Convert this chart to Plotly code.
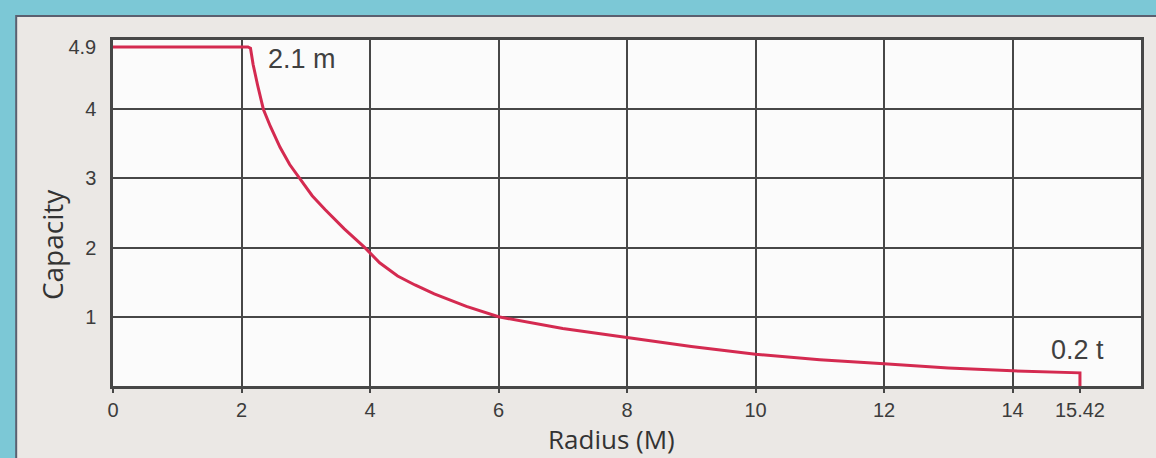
import plotly.graph_objects as go

# ---- data ----
radius = [0, 2.1, 2.14, 2.18, 2.25, 2.34, 2.45, 2.6, 2.75, 2.91, 3.1, 3.3, 3.6, 3.92,
          4.15, 4.43, 4.7, 5.0, 5.5, 6.0, 6.5, 7.0, 8.0, 9.0, 10.0, 11.0, 12.0, 13.0, 14.0,
          15.05, 15.05]
capacity = [4.9, 4.9, 4.88, 4.65, 4.35, 4.0, 3.75, 3.45, 3.2, 3.0, 2.75, 2.55, 2.27, 2.0,
            1.78, 1.59, 1.46, 1.33, 1.15, 1.0, 0.91, 0.83, 0.70, 0.57, 0.46, 0.38, 0.32,
            0.26, 0.22, 0.19, 0.0]

x_tickvals = [0, 2, 4, 6, 8, 10, 12, 14, 15.05]
x_ticktext = ["0", "2", "4", "6", "8", "10", "12", "14", "15.42"]
x_gridvals = [2, 4, 6, 8, 10, 12, 14]
y_tickvals = [1, 2, 3, 4, 4.9]
y_ticktext = ["1", "2", "3", "4", "4.9"]
y_gridvals = [1, 2, 3, 4]

x_title = "Radius (M)"
y_title = "Capacity"
label_start = "2.1 m"
label_end = "0.2 t"

# ---- figure ----
W, H = 1156, 458
ML, MR, MT, MB = 113, 13, 40, 72
pw, ph = W - ML - MR, H - MT - MB

def px_x(p):
    return (p - ML) / pw

def px_y(p):
    return (H - MB - p) / ph

teal = "#7cc8d6"
panel = "#ebe8e5"
gridc = "#474747"
tickfont = dict(family="Liberation Sans, Arial", size=20, color="#3c3c3c")
labelfont = dict(family="Liberation Sans, Arial", size=27, color="#404040")
titlefont = dict(family="Open Sans, Noto Sans, Arial", size=26, color="#333")

fig = go.Figure()
fig.add_trace(go.Scatter(
    x=radius, y=capacity, mode="lines",
    line=dict(color="#d42a50", width=3),
    showlegend=False, hoverinfo="skip",
))

shapes = [
    dict(type="rect", xref="paper", yref="paper", layer="below",
         x0=px_x(16), x1=px_x(W + 10), y0=px_y(H + 10), y1=px_y(16),
         fillcolor=panel, line=dict(color="#5b6070", width=2)),
    dict(type="rect", xref="paper", yref="paper", layer="below",
         x0=0, x1=1, y0=0, y1=1, fillcolor="#fbfbfb", line=dict(width=0)),
]

annotations = [
    dict(text=label_start, x=2.38, y=4.72, xref="x", yref="y", xanchor="left", yanchor="middle",
         showarrow=False, font=labelfont),
    dict(text=label_end, x=14.57, y=0.52, xref="x", yref="y", xanchor="left", yanchor="middle",
         showarrow=False, font=labelfont),
    dict(text=x_title, x=px_x(612), y=px_y(439), xref="paper", yref="paper",
         xanchor="center", yanchor="middle", showarrow=False, font=titlefont),
    dict(text=y_title, x=px_x(52), y=px_y(245), xref="paper", yref="paper",
         xanchor="center", yanchor="middle", showarrow=False, textangle=-90,
         font=dict(family="Open Sans, Noto Sans, Arial", size=28, color="#333")),
]

fig.update_layout(
    width=W, height=H,
    margin=dict(l=ML, r=MR, t=MT, b=MB, pad=0),
    paper_bgcolor=teal,
    plot_bgcolor="#fbfbfb",
    shapes=shapes,
    annotations=annotations,
    xaxis=dict(
        range=[0, 16], tickmode="array", tickvals=x_tickvals, ticktext=x_ticktext,
        showgrid=False, zeroline=False,
        showline=True, mirror=True, linecolor=gridc, linewidth=2.5,
        ticks="outside", ticklen=4, tickcolor=gridc, tickwidth=1.5,
        tickfont=tickfont,
        minor=dict(tickmode="array", tickvals=x_gridvals, showgrid=True,
                   gridcolor=gridc, gridwidth=2, ticks=""),
    ),
    yaxis=dict(
        range=[0, 5], tickmode="array", tickvals=y_tickvals, ticktext=y_ticktext,
        showgrid=False, zeroline=False,
        showline=True, mirror=True, linecolor=gridc, linewidth=2.5,
        ticks="", ticklabelstandoff=10,
        tickfont=tickfont,
        minor=dict(tickmode="array", tickvals=y_gridvals, showgrid=True,
                   gridcolor=gridc, gridwidth=2, ticks=""),
    ),
)

fig.write_html("out.html", config={"displayModeBar": False},
               post_script="document.body.style.margin='0';document.body.style.overflow='hidden';")
